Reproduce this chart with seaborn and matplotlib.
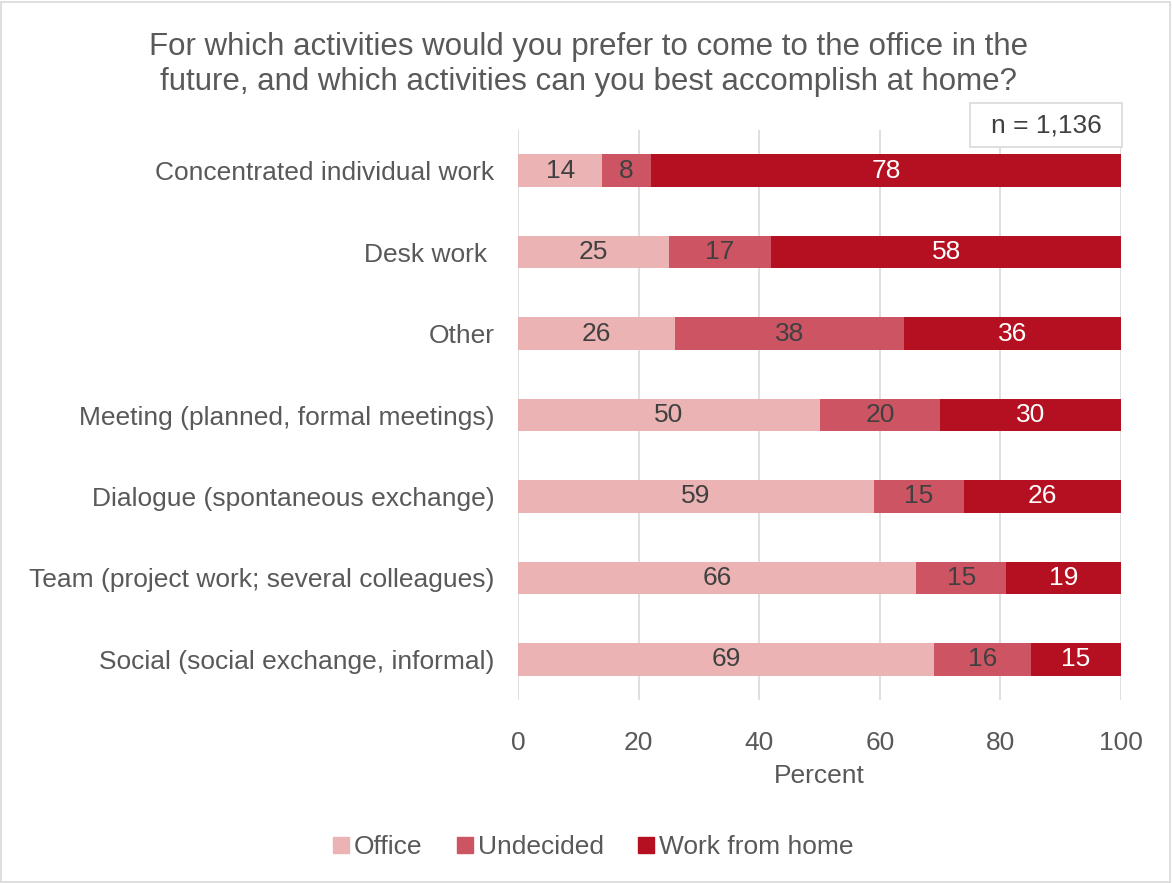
import matplotlib
matplotlib.use("Agg")
import matplotlib.pyplot as plt
from matplotlib.patches import Rectangle
from matplotlib.lines import Line2D
import seaborn as sns
import pandas as pd
import numpy as np

categories = [
    "Concentrated individual work",
    "Desk work ",
    "Other",
    "Meeting (planned, formal meetings)",
    "Dialogue (spontaneous exchange)",
    "Team (project work; several colleagues)",
    "Social (social exchange, informal)",
]
office = [14, 25, 26, 50, 59, 66, 69]
undecided = [8, 17, 38, 20, 15, 15, 16]
wfh = [78, 58, 36, 30, 26, 19, 15]

series_names = ["Office", "Undecided", "Work from home"]
colors = ["#EBB3B3", "#CD5563", "#B50F22"]
label_colors = ["#404040", "#404040", "white"]

title = ("For which activities would you prefer to come to the office in the\n"
         "future, and which activities can you best accomplish at home?")
sample_note = "n = 1,136"

sns.set_theme(style="white")
plt.rcParams["font.family"] = ["Liberation Sans", "DejaVu Sans"]
text_color = "#595959"
fs = 19

df = pd.DataFrame({"category": categories, "Office": office,
                   "Undecided": undecided, "Work from home": wfh})
df["c1"] = df["Office"]
df["c2"] = df["Office"] + df["Undecided"]
df["c3"] = df["c2"] + df["Work from home"]

fig = plt.figure(figsize=(11.72, 8.83), dpi=100)
ax = fig.add_axes([0.442, 0.207, 0.5145, 0.646])

# stacked bars: draw cumulative layers from the outermost inward
for col, color in zip(["c3", "c2", "c1"], colors[::-1]):
    sns.barplot(data=df, x=col, y="category", orient="h", color=color,
                width=0.4, ax=ax, saturation=1, linewidth=0, zorder=3)

# segment value labels
for i in range(len(categories)):
    left = 0
    for vals, lc in zip([office, undecided, wfh], label_colors):
        v = vals[i]
        ax.text(left + v / 2, i, str(v), ha="center", va="center",
                fontsize=fs, color=lc, zorder=4)
        left += v

ax.set_xlim(0, 100)
ax.set_ylim(6.5, -0.5)
ax.set_xticks(np.arange(0, 101, 20))
ax.xaxis.grid(True, color="#D9D9D9", linewidth=1.2, zorder=0)
ax.yaxis.grid(False)
for s in ax.spines.values():
    s.set_visible(False)
ax.tick_params(axis="both", length=0, labelsize=fs, colors=text_color)
ax.tick_params(axis="y", pad=17)
ax.tick_params(axis="x", pad=22)
ax.set_ylabel("")
ax.set_xlabel("Percent", fontsize=fs, color=text_color, labelpad=7)

fig.text(0.502, 0.927, title, ha="center", va="center", fontsize=22.5,
         color=text_color, linespacing=1.2)

# sample size box
fig.patches.append(Rectangle((0.8276, 0.8335), 0.1297, 0.0498,
                             transform=fig.transFigure, facecolor="white",
                             edgecolor="#D9D9D9", linewidth=1.2, zorder=5))
fig.text(0.8925, 0.8584, sample_note, ha="center", va="center", fontsize=fs,
         color="#404040", zorder=6)

handles = [Line2D([0], [0], marker="s", linestyle="", markersize=11,
                  markerfacecolor=c, markeredgecolor=c) for c in colors]
fig.legend(handles, series_names, loc="center", bbox_to_anchor=(0.503, 0.041),
           ncol=3, frameon=False, fontsize=fs, handletextpad=-0.1,
           handlelength=1.2, columnspacing=1.0, labelcolor=text_color)

# outer frame
fig.patches.append(Rectangle((0.001, 0.001), 0.997, 0.997, transform=fig.transFigure,
                             fill=False, edgecolor="#D9D9D9", linewidth=1.2))

fig.savefig("out.png", dpi=100, facecolor="white")
